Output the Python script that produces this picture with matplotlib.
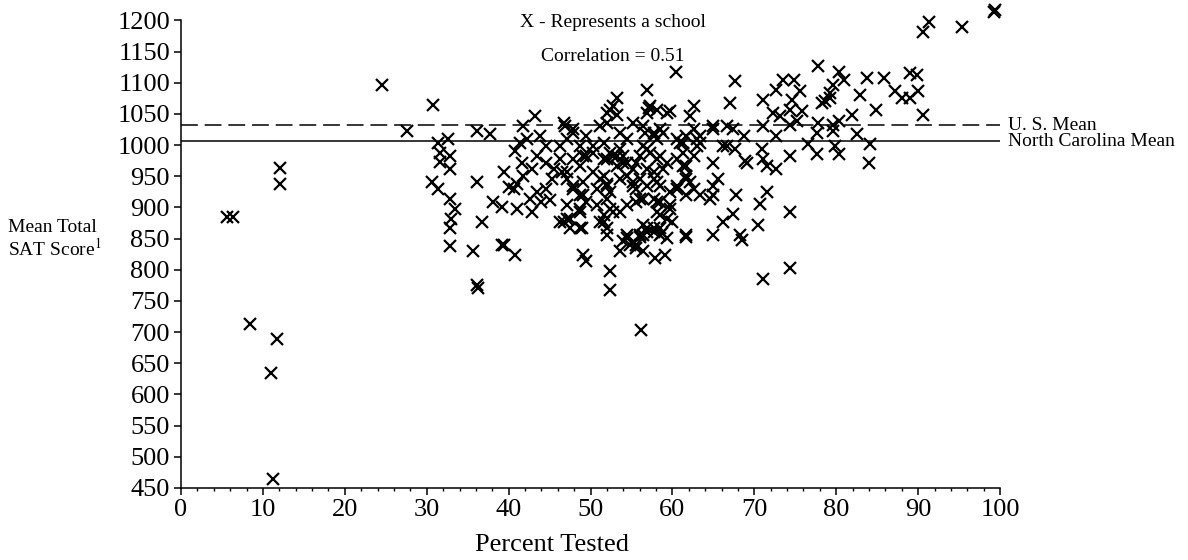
import numpy as np
import matplotlib
matplotlib.use('Agg')
import matplotlib.pyplot as plt
from matplotlib.ticker import MultipleLocator

plt.rcParams['font.family'] = ['Liberation Serif', 'DejaVu Serif']
plt.rcParams['mathtext.fontset'] = 'stix'

# =========================================================
# DATOS
# =========================================================
pct_tested = [
    5.6, 6.3, 8.4, 11.7, 11.0, 11.2, 12.1, 12.1, 24.5, 27.6,
    30.8, 31.4, 32.6, 31.6, 32.8, 31.6, 32.8, 30.6, 31.4, 32.8, 33.5, 33.0, 32.8, 32.8,
    36.1, 36.8, 35.7, 36.1, 36.3, 39.2, 40.8,
    36.1, 37.7, 38.1, 39.2, 41.0, 39.4, 39.4, 40.0, 40.6, 41.0, 41.8, 43.2, 41.4, 42.2,
    40.8, 41.6, 41.8, 42.8, 42.6, 42.8, 43.4, 44.0, 45.1, 44.6, 43.8, 44.6, 43.4, 44.6,
    45.5, 45.3, 46.3, 46.3, 47.1, 46.9, 47.9, 46.5, 47.1, 47.9, 46.3, 47.1, 47.5, 48.9,
    48.7, 49.5, 48.7, 49.1, 48.7, 49.5, 48.7, 49.5, 49.1, 49.5, 50.3, 50.3, 50.8, 51.2,
    52.0, 52.0, 52.8, 53.2, 51.6, 52.0, 52.8, 51.2, 52.0, 52.0, 52.4, 51.6, 52.0, 52.0,
    52.4, 52.4, 56.2,
    53.6, 54.4, 53.6, 54.0, 53.2, 54.4, 53.6, 55.2, 55.2, 56.0, 54.4, 55.6, 56.4, 53.6,
    54.4, 53.6, 55.6, 56.4, 55.6, 56.4, 57.9, 59.1, 56.0, 57.7, 58.7, 59.9, 61.7, 65.0,
    66.2, 67.4, 68.3, 68.5, 70.5, 71.1, 74.4, 74.4, 70.7,
    56.9, 57.3, 56.9, 58.1, 59.3, 60.4, 56.4, 57.7, 58.1, 58.9, 56.9, 56.0, 58.1, 57.7,
    58.9, 56.9, 58.1, 57.7, 58.5, 58.1, 59.7, 59.7, 59.3, 56.9, 58.5, 59.3,
    60.9, 61.7, 61.3, 62.6, 62.1, 62.6, 63.4, 63.0, 62.6, 65.0, 61.7, 61.7, 60.5, 62.6,
    63.4, 65.0, 65.5, 65.0, 67.6, 67.0, 66.6, 67.4, 65.0, 68.7, 66.2, 67.6, 69.1, 67.8,
    71.1, 72.7, 73.5, 74.8, 72.3, 73.1, 74.4, 71.1, 72.7, 70.9, 71.1, 71.5, 72.7, 74.4,
    71.5,
    77.8, 80.3, 80.9, 83.7, 85.8, 89.0, 89.8, 79.6, 82.9, 87.2, 88.0, 89.0, 90.0, 84.9,
    81.9, 90.6, 79.2, 78.6, 79.2, 78.2, 75.6, 74.6, 75.8, 74.4, 75.2, 77.8, 79.6, 80.3,
    77.6, 79.6, 82.5, 76.6, 79.9, 84.1, 77.6, 80.3, 84.0,
    90.6, 91.3, 95.3, 99.2, 99.4,
    52.4, 53.2, 57.1, 59.7, 55.2, 56.7, 57.7, 58.5, 46.7, 47.9, 60.5, 61.3, 63.0, 63.4,
    65.0, 53.2, 54.0, 52.4, 51.6, 50.3, 49.1, 47.9, 47.1, 56.4, 57.3, 55.6, 56.9, 58.5,
    59.3, 60.5, 61.3, 66.6, 68.9, 51.6, 54.4, 55.2, 57.7, 58.5, 61.7, 62.1, 47.9, 49.1,
    52.0, 52.4, 55.6, 56.0, 60.5, 61.7, 64.6, 47.1, 48.7, 50.8, 51.6, 58.1, 58.5, 59.7,
    52.8, 46.7, 47.5, 48.7, 51.2, 56.4, 54.4, 56.0, 56.9, 57.7, 58.5, 61.7, 54.0, 54.8,
]

sat_score = [
    884, 885, 713, 689, 634, 465, 963, 938, 1096, 1022,
    1065, 1004, 1010, 988, 983, 973, 962, 941, 930, 914, 898, 882, 867, 838,
    941, 877, 830, 776, 770, 840, 824,
    1023, 1017, 909, 901, 898, 840, 957, 933, 930, 938, 1031, 1047, 1004, 1010,
    991, 972, 951, 962, 914, 893, 925, 909, 912, 930, 1015, 999, 983, 972,
    962, 946, 978, 999, 1010, 1031, 1020, 957, 946, 935, 877, 882, 867, 867,
    893, 909, 920, 941, 967, 983, 999, 1015, 824, 814, 988, 957, 930, 1031,
    1036, 1052, 1062, 1076, 1004, 978, 983, 946, 938, 914, 898, 877, 867, 856,
    798, 767, 703,
    1020, 1010, 994, 983, 967, 972, 946, 962, 935, 946, 904, 909, 914, 893,
    851, 830, 840, 856, 835, 830, 819, 824, 853, 861, 859, 877, 853, 856,
    877, 890, 856, 848, 872, 785, 803, 893, 906,
    1089, 1062, 1052, 1057, 1052, 1117, 1031, 1020, 1010, 1020, 994, 983, 978, 957,
    962, 935, 941, 914, 909, 893, 925, 898, 882, 867, 867, 851,
    1004, 1015, 988, 1062, 1047, 1025, 1015, 999, 983, 972, 967, 946, 935, 930,
    920, 920, 946, 935, 1102, 1067, 1031, 1025, 1031, 1015, 999, 994, 972, 920,
    1073, 1089, 1105, 1105, 1052, 1047, 1057, 1031, 1015, 994, 978, 967, 962, 983,
    925,
    1127, 1118, 1105, 1107, 1107, 1115, 1113, 1097, 1081, 1086, 1076, 1076, 1086, 1057,
    1049, 1049, 1084, 1071, 1076, 1068, 1086, 1073, 1054, 1033, 1039, 1036, 1033, 1039,
    1020, 1023, 1017, 1001, 999, 1001, 986, 986, 972,
    1181, 1197, 1189, 1213, 1216,
    1057, 1049, 1060, 1054, 1036, 1020, 1015, 1025, 1036, 1025, 1010, 1004, 1010, 1004,
    1025, 983, 972, 988, 978, 999, 983, 978, 957, 999, 988, 972, 962, 983,
    972, 978, 967, 999, 975, 951, 951, 941, 946, 935, 951, 941, 930, 920,
    935, 925, 930, 914, 930, 920, 914, 904, 898, 904, 888, 909, 888, 904,
    893, 877, 882, 867, 877, 872, 856, 856, 861, 867, 856, 856, 846, 840,
]

us_mean = 1032
nc_mean = 1006
correlation = 0.51

x_ticks = np.arange(0, 101, 10)
y_ticks = np.arange(450, 1201, 50)

# =========================================================
# FIGURA
# =========================================================
fig = plt.figure(figsize=(11.88, 5.6), dpi=100)
ax = fig.add_axes([0.1524, 0.1286, 0.6894, 0.835])

# las X de arriba a la derecha salen por encima del eje: sin recorte
ax.plot(pct_tested, sat_score, 'x', color='black', ms=9, mew=1.6,
        linestyle='none', clip_on=False)

ax.axhline(us_mean, color='black', lw=1.1, dashes=(11, 4.5))
ax.axhline(nc_mean, color='black', lw=1.1)

ax.text(101, us_mean, 'U. S. Mean', fontsize=14, ha='left', va='center', clip_on=False)
ax.text(101, nc_mean, 'North Carolina Mean', fontsize=14, ha='left', va='center', clip_on=False)

ax.text(0.527, 0.996, 'X - Represents a school', transform=ax.transAxes,
        fontsize=14, ha='center', va='center')
ax.text(0.527, 0.922, f'Correlation = {correlation}', transform=ax.transAxes,
        fontsize=14, ha='center', va='center')

# ejes
ax.set_xlim(0, 100)
ax.set_ylim(450, 1200)
ax.set_xticks(x_ticks)
ax.set_yticks(y_ticks)
ax.xaxis.set_minor_locator(MultipleLocator(2))

for side in ['top', 'right']:
    ax.spines[side].set_visible(False)
for side in ['left', 'bottom']:
    ax.spines[side].set_linewidth(1.1)

ax.tick_params(axis='both', which='major', labelsize=19, direction='out',
               length=5, width=1.1, pad=3)
ax.tick_params(axis='x', which='minor', direction='out', length=2.5, width=1.0)

# etiquetas
fig.text(552 / 1188, 0.027, 'Percent Tested', fontsize=19, ha='center', va='center')
fig.text(0.007, 0.593, 'Mean Total', fontsize=14, ha='left', va='center')
fig.text(0.007, 0.557, 'SAT Score$^{1}$', fontsize=14, ha='left', va='center')

fig.savefig('out.png', dpi=100)
